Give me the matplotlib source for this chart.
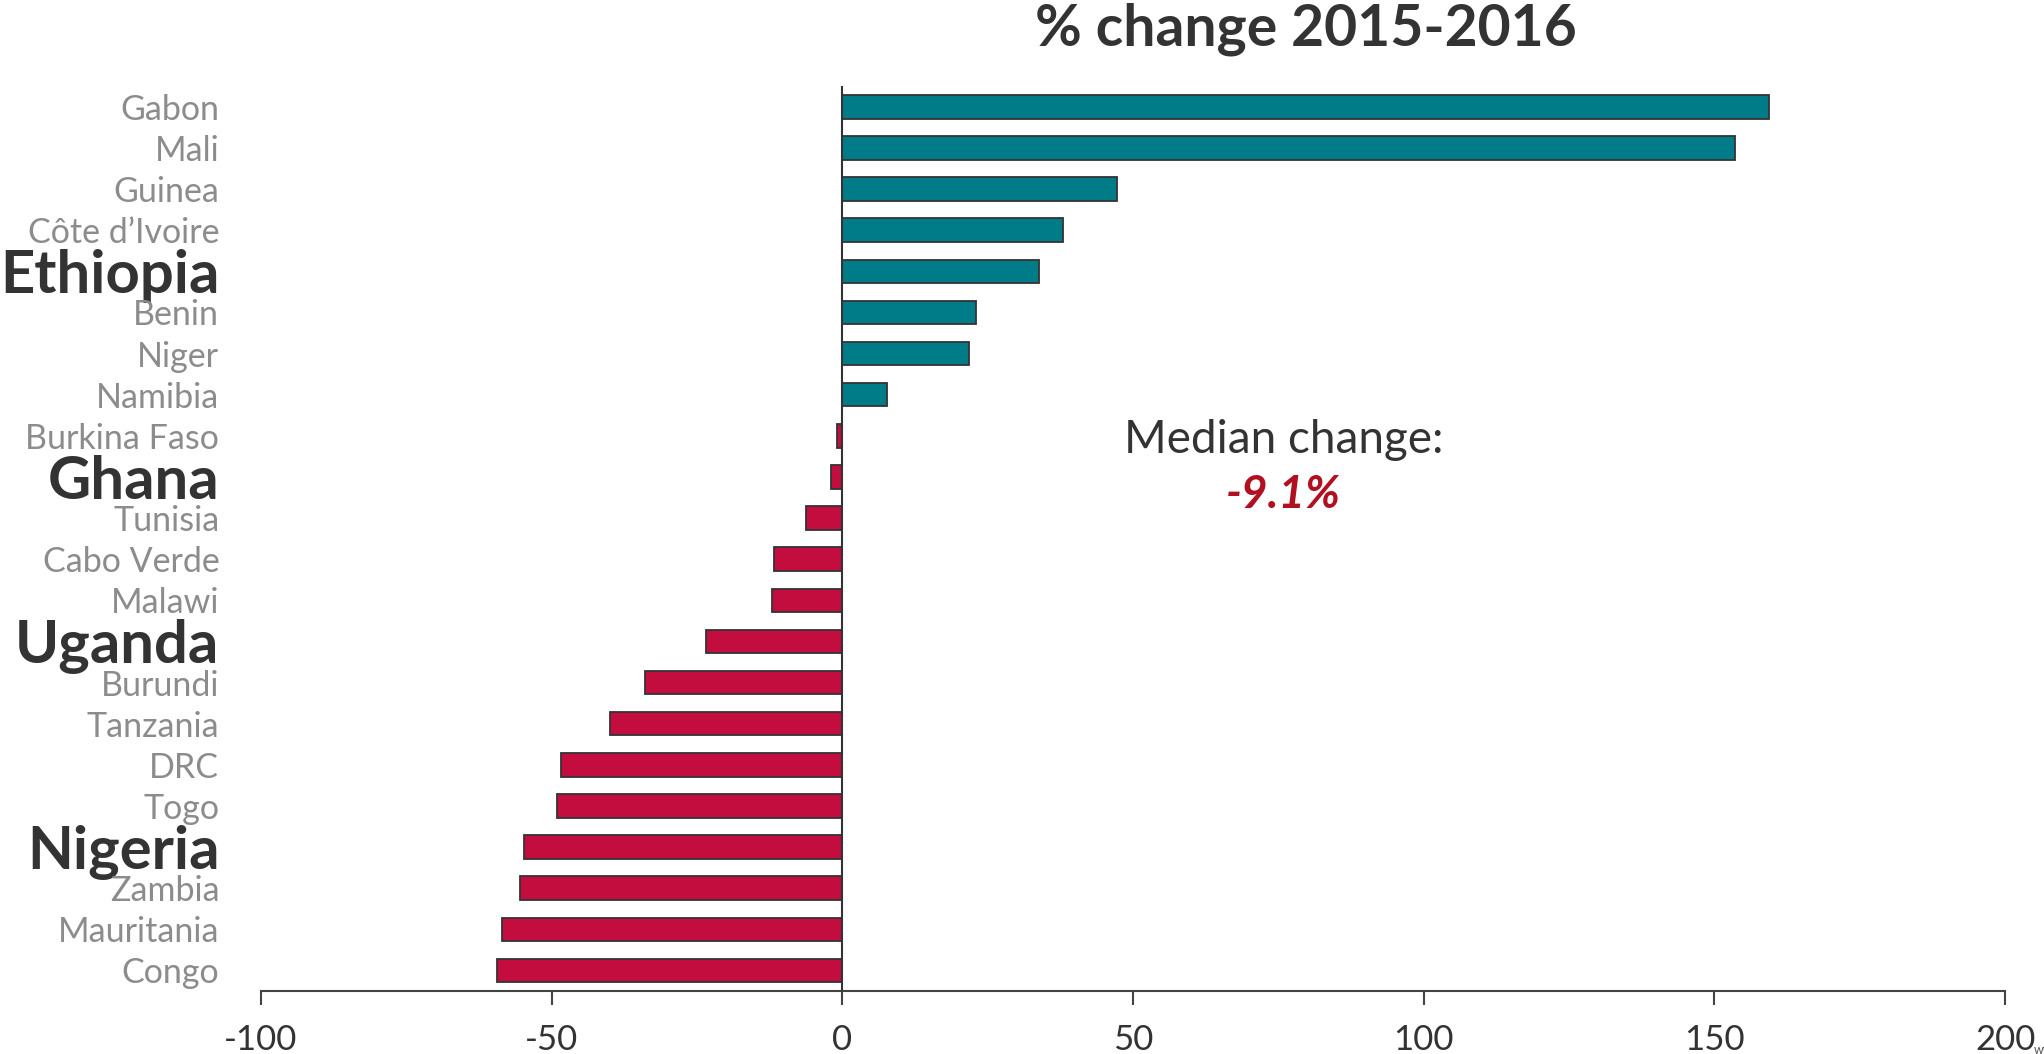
import matplotlib.pyplot as plt
import numpy as np

countries = ['Gabon', 'Mali', 'Guinea', 'Côte d\u2019Ivoire', 'Ethiopia', 'Benin',
             'Niger', 'Namibia', 'Burkina Faso', 'Ghana', 'Tunisia', 'Cabo Verde',
             'Malawi', 'Uganda', 'Burundi', 'Tanzania', 'DRC', 'Togo', 'Nigeria',
             'Zambia', 'Mauritania', 'Congo']
pct_change = [159.4, 153.6, 47.3, 37.9, 33.9, 22.9, 21.7, 7.6, -0.9, -2.0, -6.3,
              -11.7, -12.1, -23.5, -33.9, -39.9, -48.4, -49.1, -54.7, -55.4, -58.5, -59.4]
highlight = ['Ethiopia', 'Ghana', 'Uganda', 'Nigeria']
x_ticks = [-100, -50, 0, 50, 100, 150, 200]
median_label = '-9.1%'

plt.rcParams['font.family'] = ['Lato', 'DejaVu Sans']

fig = plt.figure(figsize=(20.44, 10.54), dpi=100)
ax = fig.add_axes([0.1277, 0.0598, 0.8533, 0.8584])

y = np.arange(len(countries))
colors = ['#007C89' if v >= 0 else '#C20D3E' for v in pct_change]
ax.barh(y, pct_change, height=0.57, color=colors, edgecolor='#333333', linewidth=1.3, zorder=2)

ax.set_xlim(-100, 200)
ax.set_ylim(len(countries) - 0.5, -0.5)
ax.axvline(0, color='#333333', linewidth=1.5, zorder=3)

for s in ['top', 'right', 'left']:
    ax.spines[s].set_visible(False)
ax.spines['bottom'].set_color('#444444')
ax.spines['bottom'].set_linewidth(1.5)

ax.set_xticks(x_ticks)
ax.set_xticklabels([str(t) for t in x_ticks])
ax.tick_params(axis='x', direction='out', length=10, width=1.5, color='#444444',
               labelsize=25, labelcolor='#333333', pad=14)

ax.set_yticks(y)
ax.set_yticklabels(countries)
ax.tick_params(axis='y', length=0, pad=30)
for lbl in ax.get_yticklabels():
    if lbl.get_text() in highlight:
        lbl.set_fontsize(43)
        lbl.set_fontweight('bold')
        lbl.set_color('#333333')
    else:
        lbl.set_fontsize(24.5)
        lbl.set_color('#8C8C8C')

fig.text(0.639, 0.972, '% change 2015-2016', ha='center', va='center',
         fontsize=41, fontweight='bold', color='#333333')

fig.text(0.628, 0.583, 'Median change:', ha='center', va='center',
         fontsize=33, color='#333333')
fig.text(0.628, 0.530, median_label, ha='center', va='center',
         fontsize=33, fontweight='bold', fontstyle='italic', color='#B01020')

fig.text(0.995, -0.002, 'www', ha='left', va='bottom', fontsize=9, color='#555555')

fig.savefig('out.png', dpi=100)
